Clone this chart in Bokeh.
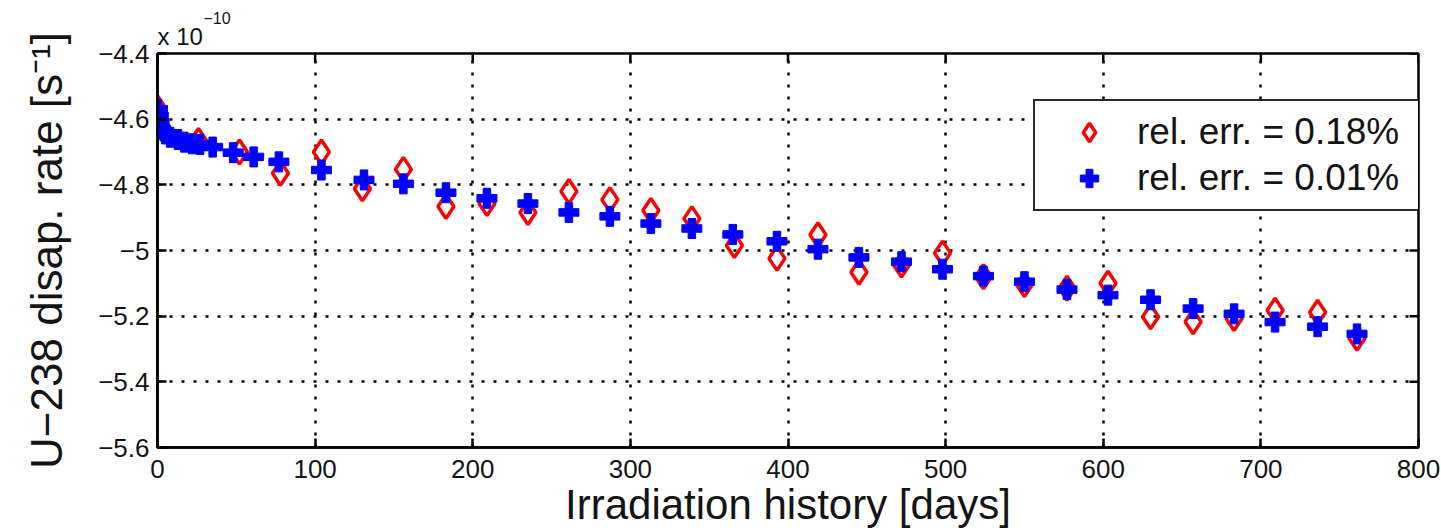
from bokeh.plotting import figure
from bokeh.models import (Range1d, FixedTicker, CustomJSTickFormatter,
                          ColumnDataSource, Title)
from bokeh.embed import file_html
from bokeh.resources import INLINE

# ---- data (values in units of 1e-10 s^-1) ----
red_days = [0, 26, 52, 78, 104, 130, 156, 183, 209, 235, 261, 287, 313, 339,
            366, 393, 419, 445, 472, 498, 524, 550, 577, 603, 630, 657, 683,
            709, 736, 761]
red_rate = [-4.565, -4.665, -4.700, -4.765, -4.700, -4.812, -4.753, -4.866,
            -4.857, -4.884, -4.820, -4.845, -4.878, -4.903, -4.985, -5.024,
            -4.952, -5.066, -5.044, -5.008, -5.080, -5.104, -5.115, -5.100,
            -5.202, -5.217, -5.207, -5.182, -5.188, -5.267]

blue_days = [0, 0.5, 1, 2, 5, 8, 13, 17, 22, 27, 35, 48, 61, 77, 104, 131,
             156, 183, 209, 235, 261, 287, 313, 339, 365, 393, 419, 445, 472,
             498, 524, 550, 577, 603, 630, 657, 683, 709, 736, 761]
blue_rate = [-4.570, -4.590, -4.610, -4.630, -4.645, -4.655, -4.662, -4.670,
             -4.675, -4.677, -4.685, -4.702, -4.715, -4.730, -4.755, -4.785,
             -4.797, -4.824, -4.841, -4.857, -4.884, -4.896, -4.918, -4.933,
             -4.951, -4.972, -4.996, -5.021, -5.034, -5.057, -5.078, -5.095,
             -5.119, -5.136, -5.150, -5.177, -5.193, -5.218, -5.232, -5.254]

x_ticks = [0, 100, 200, 300, 400, 500, 600, 700, 800]
y_ticks = [-5.6, -5.4, -5.2, -5.0, -4.8, -4.6, -4.4]
legend_labels = ["rel. err. = 0.18%", "rel. err. = 0.01%"]
x_label = "Irradiation history [days]"
y_label = "U\u2212238 disap. rate [s\u207b\u00b9]"
exp_base = "x 10"
exp_power = "\u221210"

FONT = "Liberation Sans"
TXT = "#141414"

W, H = 1441, 530
BL, BR, BT, BB = 157, 23, 53, 83
XMIN, XMAX, YMIN, YMAX = 0, 800, -5.6, -4.4

p = figure(width=W, height=H, output_backend="svg", toolbar_location=None,
           x_range=Range1d(XMIN, XMAX), y_range=Range1d(YMIN, YMAX),
           min_border_left=BL, min_border_right=BR, min_border_top=BT,
           min_border_bottom=BB)
p.background_fill_color = "white"
p.border_fill_color = "white"
p.outline_line_color = "black"
p.outline_line_width = 2.5
p.outline_line_alpha = 1

# exponent "x 10^-10" above the top-left corner: base (inner title) and
# superscript (outer title, pulled down with a negative standoff)
p.add_layout(Title(text=exp_base, align="left", offset=0, standoff=8,
                   text_font=FONT, text_font_size="24px",
                   text_font_style="normal", text_color=TXT), "above")
p.title.text = exp_power
p.title.align = "left"
p.title.offset = 46
p.title.standoff = -14
p.title.text_font = FONT
p.title.text_font_size = "16px"
p.title.text_font_style = "normal"
p.title.text_color = TXT

p.xaxis.ticker = FixedTicker(ticks=x_ticks)
p.yaxis.ticker = FixedTicker(ticks=y_ticks)
p.yaxis.formatter = CustomJSTickFormatter(code="""
    const s = (Math.round(tick * 10) / 10).toString();
    return s.replace('-', '\\u2212');
""")

TICK = 9
for ax in (p.xaxis[0], p.yaxis[0]):
    ax.axis_line_width = 2.5
    ax.axis_line_color = "black"
    ax.major_tick_in = TICK
    ax.major_tick_out = 0
    ax.major_tick_line_width = 2.5
    ax.major_tick_line_color = "black"
    ax.minor_tick_line_color = None
    ax.major_label_text_font = FONT
    ax.major_label_text_font_size = "26px"
    ax.major_label_text_color = TXT
    ax.axis_label_text_font = FONT
    ax.axis_label_text_font_style = "normal"
    ax.axis_label_text_color = TXT

p.yaxis.axis_label = y_label
p.yaxis.axis_label_text_font_size = "44px"
p.yaxis.major_label_standoff = 8
p.yaxis.axis_label_standoff = 24

p.xaxis.axis_label = x_label
p.xaxis.axis_label_text_font_size = "42px"
p.xaxis.axis_label_text_line_height = 0.8
p.xaxis.major_label_standoff = 12
p.xaxis.axis_label_standoff = 0

# grid
p.xgrid.grid_line_color = "black"
p.ygrid.grid_line_color = "black"
for g in (p.xgrid[0], p.ygrid[0]):
    g.grid_line_dash = "3 9"
    g.grid_line_width = 2.5
    g.grid_line_alpha = 1.0

# mirrored inward ticks on the right and top edges
frame_w = W - BL - BR
frame_h = H - BT - BB
dx = TICK * (XMAX - XMIN) / frame_w
dy = TICK * (YMAX - YMIN) / frame_h
p.segment(x0=[XMAX - dx] * len(y_ticks), y0=y_ticks,
          x1=[XMAX] * len(y_ticks), y1=y_ticks,
          line_color="black", line_width=2.5)
p.segment(x0=x_ticks, y0=[YMAX] * len(x_ticks),
          x1=x_ticks, y1=[YMAX - dy] * len(x_ticks),
          line_color="black", line_width=2.5)

red_src = ColumnDataSource(dict(x=red_days, y=red_rate))
blue_src = ColumnDataSource(dict(x=blue_days, y=blue_rate))
p.scatter("x", "y", source=red_src, marker="diamond", size=24,
          fill_color=None, line_color="red", line_width=3.5,
          legend_label=legend_labels[0])
p.scatter("x", "y", source=blue_src, marker="plus", size=20,
          fill_color="blue", line_color="blue", line_width=1,
          legend_label=legend_labels[1])

lg = p.legend[0]
lg.location = (876, 236)
lg.label_text_font = FONT
lg.label_text_font_size = "37px"
lg.label_text_color = TXT
lg.glyph_width = 92
lg.glyph_height = 46
lg.label_height = 46
lg.label_width = 274
lg.label_standoff = 2
lg.spacing = 0
lg.padding = 8
lg.margin = 0
lg.border_line_color = "#2a2a2a"
lg.border_line_width = 2
lg.border_line_alpha = 1
lg.background_fill_color = "white"
lg.background_fill_alpha = 1

open("out.html", "w").write(file_html(p, INLINE))
